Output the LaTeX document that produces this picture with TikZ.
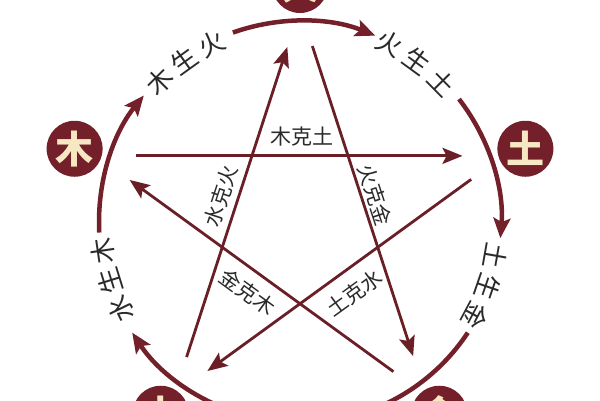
\documentclass[tikz,border=0pt]{standalone}
\usepackage{fontspec}
\newfontfamily\cjk{Noto Sans CJK SC}
\usetikzlibrary{arrows.meta,calc}
\definecolor{wxred}{HTML}{74202A}
\definecolor{wxline}{HTML}{6A1F26}
\definecolor{wxcream}{HTML}{F6E8C3}
\definecolor{wxtext}{HTML}{2A2A2A}
\begin{document}
\begin{tikzpicture}[x=1pt,y=1pt,
  ring/.style={draw=wxred, line width=4.5pt},
  ringarrow/.style={ring, -{Stealth[length=20pt,width=17pt,inset=4pt]}},
  starline/.style={draw=wxline, line width=2.8pt, shorten <=40pt, shorten >=41pt,
    -{Stealth[length=20pt,width=16pt,inset=4pt]}},
  elem/.style={circle, fill=wxred, minimum size=56pt, inner sep=0pt, outer sep=0pt,
    text=wxcream, font=\cjk\bfseries\fontsize{38}{38}\selectfont},
  ringlab/.style={text=wxtext, font=\cjk\fontsize{26}{26}\selectfont, inner sep=0pt},
  starlab/.style={text=wxtext, font=\cjk\fontsize{21}{21}\selectfont, inner sep=0pt}
]
\useasboundingbox (0,0) rectangle (600,400);
\clip (0,0) rectangle (600,400);
\fill[white] (0,0) rectangle (600,400);
\coordinate (C) at (300,178);

% ring arcs
\draw[ringarrow] ($(C)+(183:201)$) arc[start angle=183, end angle=141, radius=201];
\draw[ringarrow] ($(C)+(109.5:201)$) arc[start angle=109.5, end angle=68, radius=201];
\draw[ringarrow] ($(C)+(37.7:201)$) arc[start angle=37.7, end angle=-4.6, radius=201];
\draw[ring] ($(C)+(-33.4:201)$) arc[start angle=-33.4, end angle=-78, radius=201];
\draw[ringarrow] ($(C)+(-102:201)$) arc[start angle=-102, end angle=-146.6, radius=201];

% elements
\node[elem] (huo) at ($(C)+(90:237)$) {火};
\node[elem] (tu) at ($(C)+(18:237)$) {土};
\node[elem] (jin) at ($(C)+(-54:237)$) {金};
\node[elem] (shui) at ($(C)+(234:237)$) {水};
\node[elem] (mu) at ($(C)+(162:237)$) {木};

% star points
\coordinate (sHuo) at ($(C)+(90:214)$);
\coordinate (sTu) at ($(C)+(18:214)$);
\coordinate (sJin) at ($(C)+(-54:214)$);
\coordinate (sShui) at ($(C)+(234:214)$);
\coordinate (sMu) at ($(C)+(162:214)$);

\draw[starline] (sMu) -- (sTu);
\draw[starline] (sTu) -- (sShui);
\draw[starline] (sShui) -- (sHuo);
\draw[starline] (sHuo) -- (sJin);
\draw[starline] (sJin) -- (sMu);

% ring labels
\foreach \a/\c in {135/木,125.7/生,116.4/火, 63.4/火,54/生,44.6/土, -10/土,-19/生,-28/金, 206/水,197.2/生,188.3/木}{
  \node[ringlab, rotate=\a-90] at ($(C)+(\a:199)$) {\c};
}

% star labels
\node[starlab] (k1) at (302,263) {木克土};
\node[starlab, rotate=71.7] (k2) at (221,204) {水克火};
\node[starlab, rotate=-71.9] (k3) at (375,205) {火克金};
\node[starlab, rotate=-36] (k4) at (248,108) {金克木};
\node[starlab, rotate=36] (k5) at (354,107) {土克水};
\end{tikzpicture}
\end{document}
